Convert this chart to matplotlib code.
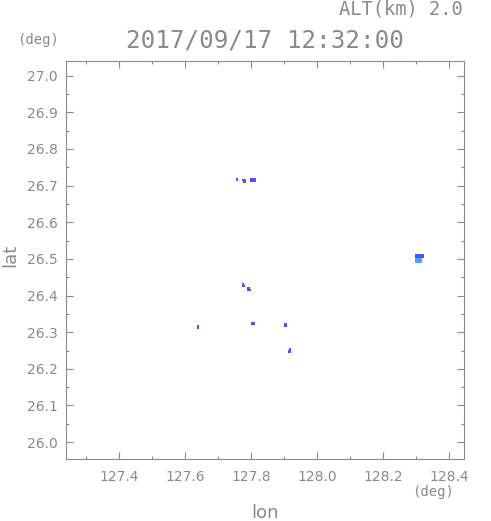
import matplotlib.pyplot as plt
import numpy as np
from matplotlib.ticker import MultipleLocator

# echo cells (lon, lat) and level (0 = weak / blue, 1 = stronger / light blue)
cell_lon = [127.758, 127.776, 127.779, 127.782, 127.781,
            127.800, 127.806, 127.812, 127.800, 127.806, 127.812,
            128.302, 128.308, 128.314, 128.320,
            128.302, 128.308, 128.314, 128.320,
            128.302, 128.308, 128.314,
            128.302, 128.308, 128.314,
            127.776, 127.776, 127.779,
            127.792, 127.792, 127.797,
            127.640, 127.640,
            127.804, 127.807,
            127.905, 127.905,
            127.916, 127.918, 127.918]
cell_lat = [26.716, 26.715, 26.715, 26.715, 26.711,
            26.716, 26.716, 26.716, 26.712, 26.712, 26.712,
            26.510, 26.510, 26.510, 26.510,
            26.505, 26.505, 26.505, 26.505,
            26.499, 26.499, 26.499,
            26.493, 26.493, 26.493,
            26.431, 26.427, 26.426,
            26.419, 26.415, 26.415,
            26.317, 26.313,
            26.324, 26.324,
            26.322, 26.318,
            26.248, 26.252, 26.248]
cell_lev = [0, 0, 0, 0, 0,
            0, 0, 0, 0, 0, 0,
            0, 0, 0, 0,
            0, 0, 0, 0,
            1, 1, 1,
            1, 1, 1,
            0, 0, 0,
            0, 0, 0,
            0, 0,
            0, 0,
            0, 0,
            0, 0, 0]

xlim = (127.24, 128.445)
ylim = (25.954, 27.04)
xticks = [127.4, 127.6, 127.8, 128.0, 128.2, 128.4]
yticks = [26.0, 26.1, 26.2, 26.3, 26.4, 26.5, 26.6, 26.7, 26.8, 26.9, 27.0]

gray = '#8a8a8a'
level_colors = ['#5050ff', '#50a0ff']
mono = 'DejaVu Sans Mono'

fig = plt.figure(figsize=(4.91, 5.21), dpi=100)
ax = fig.add_axes([0.1344, 0.119, 0.8106, 0.764])

cols = [level_colors[v] for v in cell_lev]
ax.scatter(cell_lon, cell_lat, c=cols, marker='s', s=3.5, linewidths=0)

ax.set_xlim(*xlim)
ax.set_ylim(*ylim)
ax.set_xticks(xticks)
ax.set_yticks(yticks)
ax.set_xticklabels([f'{v:.1f}' for v in xticks])
ax.set_yticklabels([f'{v:.1f}' for v in yticks])
ax.xaxis.set_minor_locator(MultipleLocator(0.1))
ax.yaxis.set_minor_locator(MultipleLocator(0.05))
ax.tick_params(which='both', direction='in', top=True, right=True,
               color=gray, labelcolor=gray, labelsize=10)
ax.tick_params(which='major', length=5, width=0.8)
ax.tick_params(which='minor', length=2.5, width=0.8)
ax.tick_params(axis='x', pad=8)
ax.tick_params(axis='y', pad=6)
for sp in ax.spines.values():
    sp.set_color(gray)
    sp.set_linewidth(0.8)

fig.text(0.5397, 0.923, '2017/09/17 12:32:00', ha='center', va='center',
         fontsize=17.5, color=gray, family=mono)
fig.text(0.943, 0.982, 'ALT(km) 2.0', ha='right', va='center',
         fontsize=13.5, color=gray, family=mono)
fig.text(0.077, 0.923, '(deg)', ha='center', va='center', fontsize=10,
         color=gray, family=mono)
fig.text(0.882, 0.055, '(deg)', ha='center', va='center', fontsize=10,
         color=gray, family=mono)
fig.text(0.54, 0.015, 'lon', ha='center', va='center', fontsize=13, color=gray)
fig.text(0.02, 0.51, 'lat', ha='center', va='center', fontsize=13, color=gray,
         rotation=90)

fig.savefig('out.png', dpi=100)
